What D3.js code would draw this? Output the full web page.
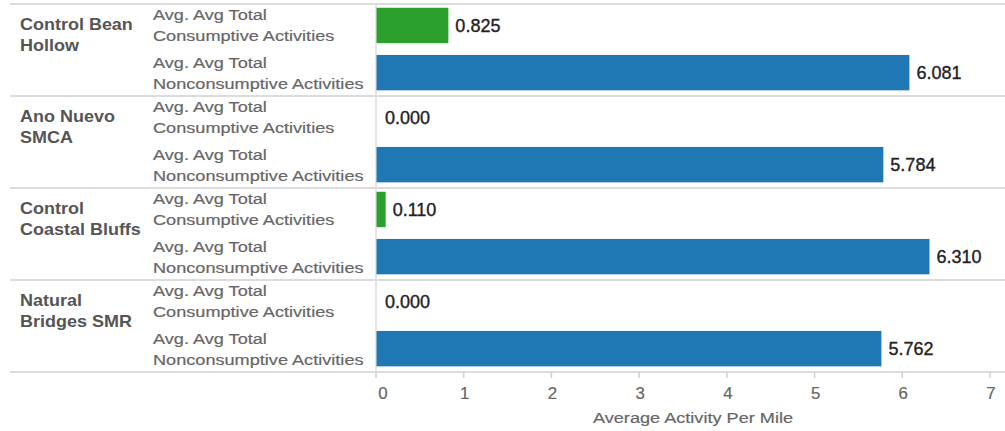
<!DOCTYPE html>
<html>
<head>
<meta charset="utf-8">
<script src="https://cdn.jsdelivr.net/npm/d3@7"></script>
<style>
  body { margin: 0; background: #fff; }
  svg { display: block; font-family: "Liberation Sans", Arial, sans-serif; }
</style>
</head>
<body>
<script>
// data
const sites = ["Control Bean Hollow", "Ano Nuevo SMCA", "Control Coastal Bluffs", "Natural Bridges SMR"];
const siteLines = [["Control Bean", "Hollow"], ["Ano Nuevo", "SMCA"], ["Control", "Coastal Bluffs"], ["Natural", "Bridges SMR"]];
const measures = ["Consumptive", "Nonconsumptive"];
const measureLines = [["Avg. Avg Total", "Consumptive Activities"], ["Avg. Avg Total", "Nonconsumptive Activities"]];
const consumptive = [0.825, 0.000, 0.110, 0.000];
const nonconsumptive = [6.081, 5.784, 6.310, 5.762];
const xTicks = [0, 1, 2, 3, 4, 5, 6, 7];
const axisTitle = "Average Activity Per Mile";

const colors = { Consumptive: "#2ca02c", Nonconsumptive: "#1f77b4" };

var width = 1005, height = 431;
var top0 = 4, bottom0 = 372;

var svg = d3.select("body").append("svg")
  .attr("width", width)
  .attr("height", height);

var x = d3.scaleLinear().domain([0, 7]).range([376, 990]);
var yGroup = d3.scaleBand().domain(sites).range([top0, bottom0]);
var yBar = d3.scaleBand().domain(measures)
  .range([0, yGroup.bandwidth()])
  .paddingInner(0.25).paddingOuter(0.1).align(0.4);

// stretched text helper (reference text is wide)
function label(g, tx, ty, str, opts) {
  var t = g.append("text")
    .attr("transform", "translate(" + tx + "," + ty + ") scale(" + (opts.sx || 1) + ",1)")
    .attr("dy", "0.35em")
    .attr("text-anchor", opts.anchor || "start")
    .style("font-size", opts.size + "px")
    .style("font-weight", opts.weight || "normal")
    .style("fill", opts.color)
    .text(str);
  if (opts.stroke) t.style("stroke", opts.color).style("stroke-width", opts.stroke);
  return t;
}

var rows = sites.map(function(s, i) {
  return { site: s, lines: siteLines[i], values: [consumptive[i], nonconsumptive[i]] };
});

// grid lines
var grid = svg.append("g");
grid.append("line")
  .attr("x1", 10).attr("x2", width)
  .attr("y1", top0).attr("y2", top0)
  .attr("stroke", "#dcdcdc").attr("stroke-width", 2);
rows.forEach(function(r) {
  var yb = yGroup(r.site) + yGroup.bandwidth();
  grid.append("line")
    .attr("x1", 10).attr("x2", width)
    .attr("y1", yb).attr("y2", yb)
    .attr("stroke", "#dcdcdc").attr("stroke-width", 2);
});
grid.append("line")
  .attr("x1", x(0)).attr("x2", x(0))
  .attr("y1", top0).attr("y2", bottom0)
  .attr("stroke", "#dcdcdc").attr("stroke-width", 1.5);

var groups = svg.selectAll("g.site")
  .data(rows)
  .join("g")
  .attr("class", "site")
  .attr("transform", function(d) { return "translate(0," + yGroup(d.site) + ")"; });

groups.each(function(d) {
  var g = d3.select(this);
  d.lines.forEach(function(t, k) {
    label(g, 20, 20 + k * 21, t, { size: 16.5, sx: 1.09, weight: "bold", color: "#555" });
  });
  measures.forEach(function(m, j) {
    var cy = yBar(m) + yBar.bandwidth() / 2;
    measureLines[j].forEach(function(t, k) {
      label(g, 153, cy - 10.5 + k * 21, t, { size: 15.5, sx: 1.17, color: "#666", stroke: 0.2 });
    });
    var v = d.values[j];
    if (v > 0) {
      g.append("rect")
        .attr("x", x(0) + 0.5)
        .attr("y", yBar(m))
        .attr("width", x(v) - x(0) - 0.5)
        .attr("height", yBar.bandwidth())
        .attr("fill", colors[m]);
    }
    label(g, x(v) + (v > 0 ? 7 : 9), cy, v.toFixed(3), { size: 17.5, sx: 1.03, color: "#222", stroke: 0.35 });
  });
});

// x axis
var axis = svg.append("g");
axis.selectAll("line.tick")
  .data(xTicks)
  .join("line")
  .attr("class", "tick")
  .attr("x1", function(d) { return x(d); }).attr("x2", function(d) { return x(d); })
  .attr("y1", bottom0).attr("y2", bottom0 + 6)
  .attr("stroke", "#d0d0d0").attr("stroke-width", 1.5);
xTicks.forEach(function(t) {
  label(axis, x(t) + (t === 0 ? 7 : 1), 393, String(t), { size: 16, sx: 1.05, anchor: "middle", color: "#666", stroke: 0.2 });
});
label(axis, (x(0) + x(7)) / 2 + 10, 418, axisTitle, { size: 15.5, sx: 1.17, anchor: "middle", color: "#666", stroke: 0.2 });
</script>
</body>
</html>
